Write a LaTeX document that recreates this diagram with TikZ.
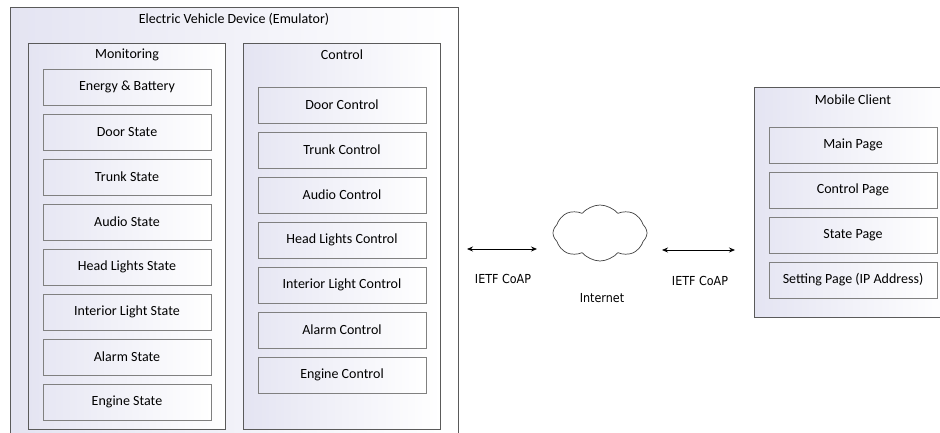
\documentclass[tikz,border=0pt]{standalone}
\usepackage{fontspec}
\setmainfont{Carlito}
\newfontfamily\netfont{DejaVu Sans Condensed}
\usetikzlibrary{arrows.meta,shapes.symbols}
\definecolor{lav}{HTML}{E4E4F2}
\definecolor{frame}{HTML}{5A5A5A}
\definecolor{itemframe}{HTML}{808080}
\tikzset{
  panel/.style={draw=frame, line width=0.9pt, left color=lav, right color=white, shading angle=90},
  item/.style={draw=itemframe, line width=1pt, left color=lav!90, right color=white, minimum width=168pt, minimum height=36pt, inner sep=0pt, font=\fontsize{14}{16}\selectfont},
  ttl/.style={font=\fontsize{14}{16}\selectfont, inner sep=0pt},
  lbl/.style={font=\netfont\fontsize{12.4}{14}\selectfont, inner sep=0pt},
  link/.style={{Stealth[length=6pt,width=5pt]}-{Stealth[length=6pt,width=5pt]}, line width=0.8pt, black}
}
\begin{document}
\begin{tikzpicture}[x=1pt,y=-1pt]
\clip (0,0) rectangle (940,432);
\useasboundingbox (0,0) rectangle (940,432);
% outer panels
\path[panel] (10,7) rectangle (458,445);
\node[ttl] (evd) at (234,19) {Electric Vehicle Device (Emulator)};
\path[panel] (28,43) rectangle (225,429);
\node[ttl] (mon) at (127,55) {Monitoring};
\path[panel] (243,43) rectangle (440,429);
\node[ttl] (ctl) at (342,55) {Control};
\path[panel] (754,87) rectangle (950,317);
\node[ttl] (mob) at (853,100) {Mobile Client};
% monitoring items
\node[item] (m1) at (127,87) {Energy \& Battery};
\node[item] (m2) at (127,132) {Door State};
\node[item] (m3) at (127,177) {Trunk State};
\node[item] (m4) at (127,222) {Audio State};
\node[item] (m5) at (127,267) {Head Lights State};
\node[item] (m6) at (127,312) {Interior Light State};
\node[item] (m7) at (127,357) {Alarm State};
\node[item] (m8) at (127,402) {Engine State};
% control items
\node[item] (c1) at (342,105) {Door Control};
\node[item] (c2) at (342,150) {Trunk Control};
\node[item] (c3) at (342,195) {Audio Control};
\node[item] (c4) at (342,240) {Head Lights Control};
\node[item] (c5) at (342,285) {Interior Light Control};
\node[item] (c6) at (342,330) {Alarm Control};
\node[item] (c7) at (342,375) {Engine Control};
% mobile items
\node[item] (p1) at (853,145) {Main Page};
\node[item] (p2) at (853,190) {Control Page};
\node[item] (p3) at (853,235) {State Page};
\node[item] (p4) at (853,280) {Setting Page (IP Address)};
% cloud
\node[cloud, draw=black!75, line width=0.7pt, fill=white, cloud puffs=8, cloud puff arc=100, aspect=1.7, minimum width=94pt, minimum height=56pt, inner sep=0pt] (net) at (600,233) {};
\node[lbl] (netl) at (602,298) {Internet};
% links
\coordinate (a1) at (467,249);
\coordinate (a2) at (537,249);
\coordinate (b1) at (662,250);
\coordinate (b2) at (735,250);
\draw[link] (a1) -- (a2);
\draw[link] (b1) -- (b2);
\node[lbl] (la) at (503,279) {IETF CoAP};
\node[lbl] (lb) at (700,281) {IETF CoAP};
\end{tikzpicture}
\end{document}
